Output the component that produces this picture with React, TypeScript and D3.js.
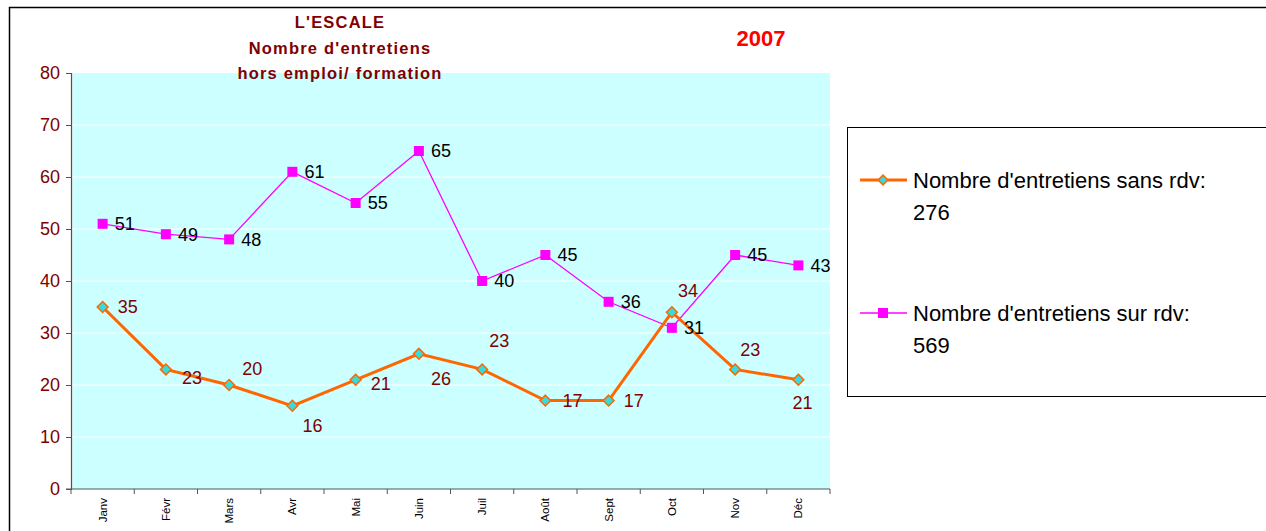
import React, { useEffect, useRef } from 'react';
import * as d3 from 'd3';

const months = ['Janv', 'Févr', 'Mars', 'Avr', 'Mai', 'Juin', 'Juil', 'Août', 'Sept', 'Oct', 'Nov', 'Déc'];
const sansRdv = [35, 23, 20, 16, 21, 26, 23, 17, 17, 34, 23, 21];
const surRdv = [51, 49, 48, 61, 55, 65, 40, 45, 36, 31, 45, 43];
const yTicks = [0, 10, 20, 30, 40, 50, 60, 70, 80];
const titleLines = ["L'ESCALE", "Nombre d'entretiens", 'hors emploi/ formation'];
const legendSans = ["Nombre d'entretiens sans rdv:", '276'];
const legendSur = ["Nombre d'entretiens sur rdv:", '569'];

// label offsets for the orange series (Excel placed them by hand)
const sansLabelOffsets: [number, number][] = [
  [15, 0], [16, 8], [13, -16], [10, 20], [15, 4], [12, 25],
  [7, -29], [17, 0], [15, 0], [6, -22], [5, -20], [-6, 23],
];

const W = 1266;
const H = 531;
const DARK_RED = '#800000';

const App = () => {
  const svgRef = useRef<SVGSVGElement>(null);

  useEffect(() => {
    const svg = d3.select(svgRef.current);
    svg.selectAll('*').remove();

    const margin = { left: 71, right: 830, top: 73, bottom: 489 };

    const x = d3.scaleBand<string>().domain(months).range([margin.left, margin.right]);
    const y = d3.scaleLinear().domain([0, 80]).range([margin.bottom, margin.top]);
    const cx = (m: string) => (x(m) as number) + x.bandwidth() / 2;

    // outer frame
    svg.append('rect')
      .attr('x', 9.5).attr('y', 7.5)
      .attr('width', W).attr('height', H)
      .attr('fill', 'white').attr('stroke', '#000').attr('stroke-width', 1.5);

    // plot background
    svg.append('rect')
      .attr('x', margin.left).attr('y', margin.top)
      .attr('width', margin.right - margin.left)
      .attr('height', margin.bottom - margin.top)
      .attr('fill', '#CCFFFF');

    // gridlines
    svg.append('g')
      .selectAll('line')
      .data(yTicks.filter(t => t > 0 && t < 80))
      .enter()
      .append('line')
      .attr('x1', margin.left).attr('x2', margin.right)
      .attr('y1', d => y(d)).attr('y2', d => y(d))
      .attr('stroke', '#ffffff').attr('stroke-width', 1);

    // y axis
    const yAxis = svg.append('g')
      .attr('transform', `translate(${margin.left},0)`)
      .call(d3.axisLeft(y).tickValues(yTicks).tickSize(5).tickPadding(6));
    yAxis.select('.domain').attr('stroke', '#993333').attr('stroke-width', 1.2);
    yAxis.selectAll('.tick line').attr('stroke', '#993333');
    yAxis.selectAll('.tick text')
      .attr('fill', DARK_RED)
      .attr('font-family', 'Arial, "Liberation Sans", sans-serif')
      .attr('font-size', 18);

    // x axis
    const xAxisG = svg.append('g').attr('transform', `translate(0,${margin.bottom})`);
    xAxisG.append('line')
      .attr('x1', margin.left - 5).attr('x2', margin.right)
      .attr('y1', 0).attr('y2', 0)
      .attr('stroke', '#555').attr('stroke-width', 1);
    xAxisG.selectAll('.xtick')
      .data(d3.range(months.length + 1))
      .enter()
      .append('line')
      .attr('x1', i => margin.left + i * x.step())
      .attr('x2', i => margin.left + i * x.step())
      .attr('y1', 0).attr('y2', 5)
      .attr('stroke', '#555');
    xAxisG.selectAll('.xlabel')
      .data(months)
      .enter()
      .append('text')
      .attr('transform', d => `translate(${cx(d) + 4},9) rotate(-90)`)
      .attr('text-anchor', 'end')
      .attr('font-family', 'Arial, "Liberation Sans", sans-serif')
      .attr('font-size', 11.5)
      .attr('fill', '#000')
      .text(d => d);

    // series lines
    const lineGen = d3.line<number>().x((_, i) => cx(months[i])).y(d => y(d));
    svg.append('path')
      .datum(surRdv)
      .attr('d', lineGen)
      .attr('fill', 'none')
      .attr('stroke', '#FF00FF')
      .attr('stroke-width', 1.3);

    svg.append('path')
      .datum(sansRdv)
      .attr('d', lineGen)
      .attr('fill', 'none')
      .attr('stroke', '#FF6600')
      .attr('stroke-width', 3);

    svg.append('g')
      .selectAll('rect')
      .data(surRdv)
      .enter()
      .append('rect')
      .attr('x', (_, i) => cx(months[i]) - 5)
      .attr('y', d => y(d) - 5)
      .attr('width', 10).attr('height', 10)
      .attr('fill', '#FF00FF');

    const diamond = d3.symbol().type(d3.symbolDiamond2).size(75);
    svg.append('g')
      .selectAll('path')
      .data(sansRdv)
      .enter()
      .append('path')
      .attr('d', diamond)
      .attr('transform', (d, i) => `translate(${cx(months[i])},${y(d)})`)
      .attr('fill', '#33DDDD')
      .attr('stroke', '#FF6600')
      .attr('stroke-width', 1.5);

    // data labels
    svg.append('g')
      .selectAll('text')
      .data(surRdv)
      .enter()
      .append('text')
      .attr('x', (_, i) => cx(months[i]) + 12)
      .attr('y', d => y(d))
      .attr('dy', '0.35em')
      .attr('font-family', 'Arial, "Liberation Sans", sans-serif')
      .attr('font-size', 18)
      .attr('fill', '#000')
      .text(d => d);

    svg.append('g')
      .selectAll('text')
      .data(sansRdv)
      .enter()
      .append('text')
      .attr('x', (_, i) => cx(months[i]) + sansLabelOffsets[i][0])
      .attr('y', (d, i) => y(d) + sansLabelOffsets[i][1])
      .attr('dy', '0.35em')
      .attr('font-family', 'Arial, "Liberation Sans", sans-serif')
      .attr('font-size', 18)
      .attr('fill', DARK_RED)
      .text(d => d);

    // title
    svg.append('g')
      .selectAll('text')
      .data(titleLines)
      .enter()
      .append('text')
      .attr('x', 340)
      .attr('y', (_, i) => 28 + i * 25.5)
      .attr('text-anchor', 'middle')
      .attr('font-family', 'Arial, "Liberation Sans", sans-serif')
      .attr('font-weight', 'bold')
      .attr('font-size', 16.5)
      .attr('letter-spacing', 1.2)
      .attr('fill', DARK_RED)
      .text(d => d);

    svg.append('text')
      .attr('x', 761).attr('y', 46)
      .attr('text-anchor', 'middle')
      .attr('font-family', 'Arial, "Liberation Sans", sans-serif')
      .attr('font-weight', 'bold')
      .attr('font-size', 22)
      .attr('fill', '#FF0000')
      .text('2007');

    // legend
    const lg = svg.append('g');
    lg.append('rect')
      .attr('x', 847.5).attr('y', 127.5)
      .attr('width', 430).attr('height', 269)
      .attr('fill', 'white').attr('stroke', '#000').attr('stroke-width', 1);

    const items = [
      { lines: legendSans, y: 180, color: '#FF6600', w: 3, marker: 'diamond' },
      { lines: legendSur, y: 313, color: '#FF00FF', w: 1.3, marker: 'square' },
    ];
    items.forEach(it => {
      lg.append('line')
        .attr('x1', 860).attr('x2', 907)
        .attr('y1', it.y).attr('y2', it.y)
        .attr('stroke', it.color).attr('stroke-width', it.w);
      if (it.marker === 'diamond') {
        lg.append('path')
          .attr('d', d3.symbol().type(d3.symbolDiamond2).size(60)())
          .attr('transform', `translate(883,${it.y})`)
          .attr('fill', '#33DDDD').attr('stroke', '#FF6600').attr('stroke-width', 1.5);
      } else {
        lg.append('rect')
          .attr('x', 878).attr('y', it.y - 5)
          .attr('width', 10).attr('height', 10)
          .attr('fill', '#FF00FF');
      }
      it.lines.forEach((t, j) => {
        lg.append('text')
          .attr('x', 913)
          .attr('y', it.y + j * 32)
          .attr('dy', '0.35em')
          .attr('font-family', 'Arial, "Liberation Sans", sans-serif')
          .attr('font-size', 22)
          .attr('fill', '#000')
          .text(t);
      });
    });
  }, []);

  return (
    <svg
      ref={svgRef}
      width={W}
      height={H}
      style={{ position: 'absolute', left: 0, top: 0, display: 'block' }}
    />
  );
};

export default App;
